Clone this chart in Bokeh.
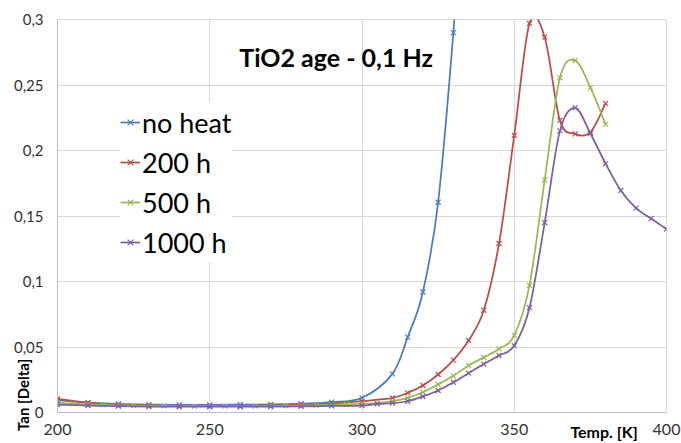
from bokeh.plotting import figure
from bokeh.models import (Range1d, FixedTicker, Legend, LegendItem, Label, ColumnDataSource,
                          LinearAxis)
from bokeh.embed import file_html
from bokeh.resources import INLINE
import math

# ---------------- data ----------------
title_text = "TiO2 age - 0,1 Hz"
y_title = "Tan [Delta]"
x_title = "Temp. [K]"

x_ticks = [200, 250, 300, 350, 400]
y_ticks = [0, 0.05, 0.1, 0.15, 0.2, 0.25, 0.3]
y_tick_labels = ["0", "0,05", "0,1", "0,15", "0,2", "0,25", "0,3"]

series_names = ["no heat", "200 h", "500 h", "1000 h"]
series_colors = ["#4A7EBB", "#BE4B48", "#98B954", "#7D60A0"]

noheat_T = [200, 210, 220, 230, 240, 250, 260, 270, 280, 290, 300, 310, 315, 320, 325, 330, 335]
noheat_v = [0.0095, 0.0075, 0.0065, 0.0060, 0.0058, 0.0058, 0.0060, 0.0062, 0.0068, 0.0079, 0.0112,
            0.0295, 0.0575, 0.092, 0.1605, 0.29, 0.45]

h200_T = [200, 210, 220, 230, 240, 250, 260, 270, 280, 290, 300, 310, 315, 320, 325, 330, 335,
          340, 345, 350, 355, 360, 365, 370, 375, 380]
h200_v = [0.0104, 0.0075, 0.0060, 0.0055, 0.0050, 0.0050, 0.0050, 0.0052, 0.0058, 0.0068, 0.0086,
          0.0112, 0.0150, 0.0206, 0.029, 0.040, 0.055, 0.078, 0.129, 0.2115, 0.297, 0.2865,
          0.223, 0.2127, 0.214, 0.236]

h500_T = [200, 205, 210, 215, 220, 225, 230, 235, 240, 245, 250, 255, 260, 265, 270, 275, 280,
          285, 290, 295, 300, 305, 310, 315, 320, 325, 330, 335, 340, 345, 350, 355, 360, 365,
          370, 375, 380]
h500_v = [0.0075, 0.0068, 0.0062, 0.0058, 0.0055, 0.0053, 0.0051, 0.0050, 0.0049, 0.0048, 0.0048,
          0.0048, 0.0048, 0.0049, 0.0050, 0.0051, 0.0053, 0.0055, 0.0058, 0.0062, 0.0066, 0.0072,
          0.0086, 0.0112, 0.0155, 0.0214, 0.028, 0.0359, 0.042, 0.0486, 0.0588, 0.097, 0.1776,
          0.2555, 0.2687, 0.248, 0.220]

h1000_T = [200, 210, 220, 230, 240, 250, 260, 270, 280, 290, 300, 305, 310, 315, 320, 325, 330,
           335, 340, 345, 350, 355, 360, 365, 370, 375, 380, 385, 390, 395, 400]
h1000_v = [0.0061, 0.0053, 0.0048, 0.0045, 0.0044, 0.0044, 0.0044, 0.0045, 0.0047, 0.0050, 0.0053,
           0.0066, 0.0071, 0.0086, 0.0122, 0.0168, 0.0231, 0.030, 0.037, 0.0435, 0.051, 0.080,
           0.145, 0.215, 0.2326, 0.213, 0.190, 0.1695, 0.156, 0.148, 0.140]

series_T = [noheat_T, h200_T, h500_T, h1000_T]
series_v = [noheat_v, h200_v, h500_v, h1000_v]

# where the Excel-style axis titles sit along their axes (data units)
x_title_at = 379.5
y_title_at = 0.022

FONT = "Lato"

# ---------------- figure ----------------
p = figure(width=681, height=443, output_backend="svg", toolbar_location=None,
           x_range=Range1d(200, 400), y_range=Range1d(0, 0.3),
           min_border_left=57, min_border_right=15, min_border_top=19, min_border_bottom=31,
           background_fill_color="white", border_fill_color="white")

p.outline_line_color = "#d9d9d9"
p.xgrid.grid_line_color = "#d9d9d9"
p.ygrid.grid_line_color = "#d9d9d9"

p.xaxis.ticker = FixedTicker(ticks=x_ticks)
p.yaxis.ticker = FixedTicker(ticks=y_ticks)
p.yaxis.major_label_overrides = {t: lab for t, lab in zip(y_ticks, y_tick_labels)}
p.xgrid.ticker = FixedTicker(ticks=x_ticks)
p.ygrid.ticker = FixedTicker(ticks=y_ticks)

for ax in (p.xaxis, p.yaxis):
    ax.axis_line_color = "#bfbfbf"
    ax.major_tick_line_color = None
    ax.minor_tick_line_color = None
    ax.major_tick_out = 0
    ax.major_tick_in = 0
    ax.major_label_text_font = FONT
    ax.major_label_text_color = "#333333"
p.yaxis.major_label_text_font_size = "15px"
p.xaxis.major_label_text_font_size = "16px"
p.yaxis.major_label_standoff = 14
p.xaxis.major_label_standoff = 11

# axis titles drawn as single-tick helper axes pulled into the tick-label band
x_title_axis = LinearAxis(ticker=FixedTicker(ticks=[x_title_at]),
                          major_label_overrides={x_title_at: x_title})
y_title_axis = LinearAxis(ticker=FixedTicker(ticks=[y_title_at]),
                          major_label_overrides={y_title_at: y_title},
                          major_label_orientation=math.pi / 2)
for ax in (x_title_axis, y_title_axis):
    ax.axis_line_color = None
    ax.major_tick_line_color = None
    ax.minor_tick_line_color = None
    ax.major_tick_out = 0
    ax.major_tick_in = 0
    ax.major_label_text_font = FONT
    ax.major_label_text_font_style = "bold"
    ax.major_label_text_color = "#000000"
x_title_axis.major_label_text_font_size = "16px"
x_title_axis.major_label_standoff = -16
y_title_axis.major_label_text_font_size = "15px"
y_title_axis.major_label_standoff = -13
p.add_layout(x_title_axis, "below")
p.add_layout(y_title_axis, "left")


def bezier_source(xs, ys):
    n = len(xs)
    d = dict(x0=[], y0=[], x1=[], y1=[], cx0=[], cy0=[], cx1=[], cy1=[])
    for i in range(n - 1):
        a = i - 1 if i > 0 else i
        b = i + 2 if i + 2 < n else i + 1
        d["x0"].append(xs[i]); d["y0"].append(ys[i])
        d["x1"].append(xs[i + 1]); d["y1"].append(ys[i + 1])
        d["cx0"].append(xs[i] + (xs[i + 1] - xs[a]) / 6.0)
        d["cy0"].append(ys[i] + (ys[i + 1] - ys[a]) / 6.0)
        d["cx1"].append(xs[i + 1] - (xs[b] - xs[i]) / 6.0)
        d["cy1"].append(ys[i + 1] - (ys[b] - ys[i]) / 6.0)
    return ColumnDataSource(d)


items = []
for name, col, xs, ys in zip(series_names, series_colors, series_T, series_v):
    br = p.bezier(x0="x0", y0="y0", x1="x1", y1="y1", cx0="cx0", cy0="cy0", cx1="cx1", cy1="cy1",
                  source=bezier_source(xs, ys), line_color=col, line_width=1.75)
    sr = p.scatter(xs, ys, marker="x", size=7, line_color=col, line_width=1.2)
    items.append(LegendItem(label=name, renderers=[br, sr]))

legend = Legend(items=items, location=(63, 150), label_text_font=FONT,
                label_text_font_size="27px", label_text_color="#000000",
                padding=2, spacing=0, label_height=40, glyph_height=20, glyph_width=20,
                label_standoff=2, background_fill_color="white", background_fill_alpha=1.0,
                border_line_color=None, margin=0)
p.add_layout(legend)

p.add_layout(Label(x=291.5, y=0.271, text=title_text, text_font=FONT, text_font_style="bold",
                   text_font_size="25px", text_color="#000000", text_align="center",
                   text_baseline="middle"))

open("out.html", "w").write(file_html(p, INLINE))
